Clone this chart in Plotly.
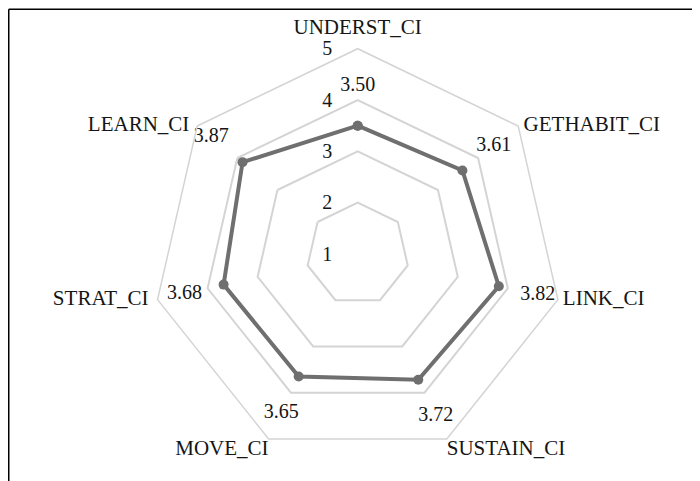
import plotly.graph_objects as go

categories = ["UNDERST_CI", "GETHABIT_CI", "LINK_CI", "SUSTAIN_CI", "MOVE_CI", "STRAT_CI", "LEARN_CI"]
values = [3.50, 3.61, 3.82, 3.72, 3.65, 3.68, 3.87]
radial_ticks = [1, 2, 3, 4, 5]

W, H = 700, 481
cx, cy, R = 349.7, 246.0, 205.3
label_offset = 0.78  # radial offset of data labels, in data units
# placement of the category names around the outer ring (style only)
cat_positions = ["top center", "middle right", "middle right", "bottom right",
                 "bottom left", "middle left", "middle left"]
cat_pad = [12.8, 7, 6.4, 0, 0, 12.8, 11]  # invisible-marker sizes that push text out

theta_closed = categories + [categories[0]]
values_closed = values + [values[0]]
label_r = [v + label_offset for v in values]
label_txt = [f"{v:.2f}" for v in values]
rmax = radial_ticks[-1]

FONT = "Liberation Serif"
LINE = "#6f6f6f"
GRID = "#d4d4d4"
TXT = "#151515"

fig = go.Figure()
fig.add_trace(go.Scatterpolar(
    r=values_closed, theta=theta_closed, mode="lines+markers",
    line=dict(color=LINE, width=4), marker=dict(color=LINE, size=10),
    hoverinfo="skip", showlegend=False, cliponaxis=False,
))
fig.add_trace(go.Scatterpolar(
    r=label_r, theta=categories, mode="text", text=label_txt,
    textposition="middle center", textfont=dict(family=FONT, size=20, color=TXT),
    showlegend=False, cliponaxis=False, hoverinfo="skip",
))
fig.add_trace(go.Scatterpolar(
    r=[rmax] * len(categories), theta=categories, mode="markers+text", text=categories,
    marker=dict(size=cat_pad, color="rgba(0,0,0,0)", line=dict(width=0)),
    textposition=cat_positions, textfont=dict(family=FONT, size=21, color=TXT),
    showlegend=False, cliponaxis=False, hoverinfo="skip",
))

fig.update_layout(
    width=W, height=H,
    margin=dict(l=0, r=0, t=0, b=0),
    paper_bgcolor="white", plot_bgcolor="white",
    font=dict(family=FONT, size=20, color=TXT),
    polar=dict(
        domain=dict(x=[(cx - R) / W, (cx + R) / W], y=[1 - (cy + R) / H, 1 - (cy - R) / H]),
        gridshape="linear",
        bgcolor="white",
        radialaxis=dict(
            range=[1, 5], tickvals=radial_ticks, ticktext=[str(t) for t in radial_ticks],
            angle=90, tickangle=90, side="counterclockwise",
            showline=False, gridcolor=GRID, gridwidth=1.5,
            ticks="outside", ticklen=18, tickcolor="rgba(0,0,0,0)",
            tickfont=dict(family=FONT, size=20, color=TXT),
        ),
        angularaxis=dict(
            direction="clockwise", rotation=90,
            showgrid=False, showline=True, linecolor=GRID, linewidth=1.5,
            ticks="", showticklabels=False,
        ),
    ),
    shapes=[
        dict(type="line", xref="paper", yref="paper", x0=0.75 / W, y0=1 - 1.3 / H, x1=1, y1=1 - 1.3 / H,
             line=dict(color="black", width=1.5)),
        dict(type="line", xref="paper", yref="paper", x0=0.75 / W, y0=1 - 1.3 / H, x1=0.75 / W, y1=0,
             line=dict(color="black", width=1.5)),
    ],
)

fig.write_html("out.html")
